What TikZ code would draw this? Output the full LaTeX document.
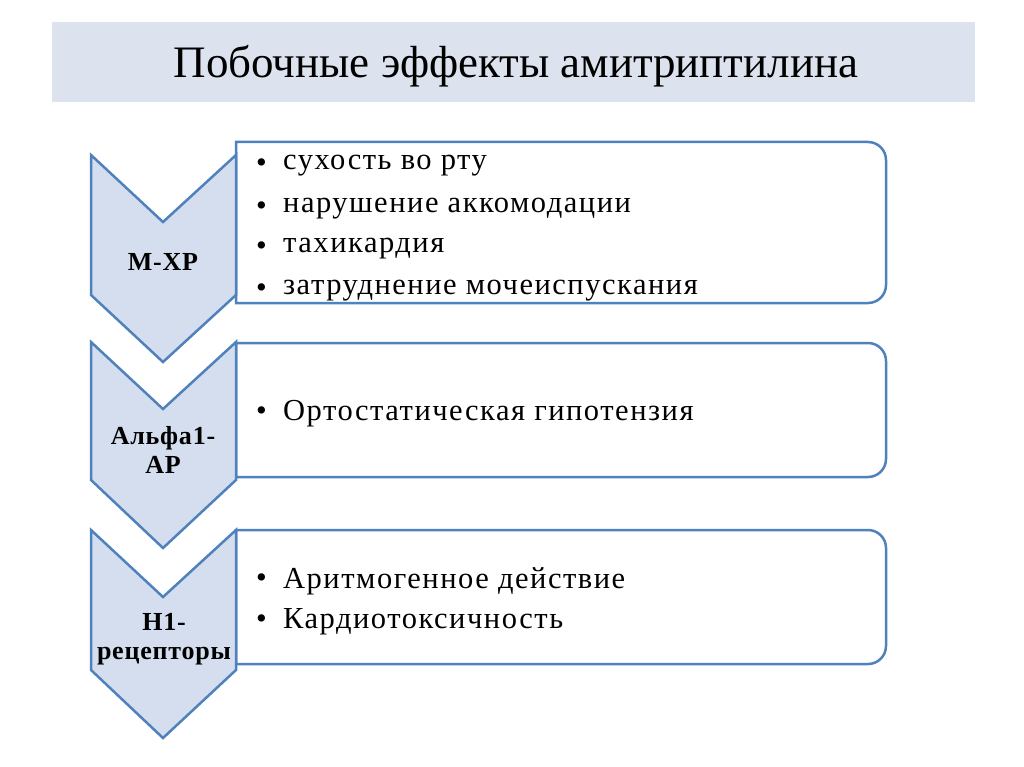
\documentclass[tikz,border=0pt]{standalone}
\usepackage{fontspec}
\setmainfont{Liberation Serif}
\newfontfamily\itemfont[LetterSpace=5]{Liberation Serif}
\newfontfamily\labfont[LetterSpace=3]{Liberation Serif}
\definecolor{bandc}{HTML}{DCE3EE}
\definecolor{chevf}{HTML}{D5DEEE}
\definecolor{edgec}{HTML}{4F81BD}
\tikzset{
  boxline/.style={draw=edgec,line width=2.5pt,fill=white,rounded corners=18pt},
  chev/.style={draw=edgec,line width=2.5pt,fill=chevf,line join=miter},
  item/.style={anchor=west,font=\itemfont\fontsize{30.5}{34}\selectfont,inner sep=0pt},
  lab/.style={align=center,font=\labfont\bfseries\fontsize{26}{29}\selectfont,inner sep=0pt}
}
\begin{document}
\begin{tikzpicture}[x=1pt,y=-1pt]
\useasboundingbox (0,0) rectangle (1024,767);
\fill[bandc] (52,22) rectangle (975,102);
\node[font=\fontsize{45}{50}\selectfont] (title) at (516,66) {Побочные эффекты амитриптилина};
% boxes
\draw[boxline] (236,142) [sharp corners]-- (236,303) [rounded corners=18pt]-- (886,303) -- (886,142) [sharp corners]-- cycle;
\draw[boxline] (236,343) [sharp corners]-- (236,477) [rounded corners=18pt]-- (886,477) -- (886,343) [sharp corners]-- cycle;
\draw[boxline] (236,530) [sharp corners]-- (236,664) [rounded corners=18pt]-- (886,664) -- (886,530) [sharp corners]-- cycle;
% chevrons
\draw[chev] (91,155) -- (163,222) -- (236,155) -- (236,295) -- (163,362) -- (91,295) -- cycle;
\draw[chev] (91,342) -- (163,409) -- (236,342) -- (236,480) -- (163,548) -- (91,480) -- cycle;
\draw[chev] (91,530) -- (163,597) -- (236,530) -- (236,670) -- (163,738) -- (91,670) -- cycle;
\node[lab] (l1) at (163,262) {М-ХР};
\node[lab] (l2) at (163,450) {Альфа1-\\АР};
\node[lab] (l3) at (164,639) {Н1-\\рецепторы};
% items
\foreach \y/\t in {166/сухость во рту,209/нарушение аккомодации,249/тахикардия,291/затруднение мочеиспускания,414/Ортостатическая гипотензия,581/Аритмогенное действие,622/Кардиотоксичность}{
  \node[item] at (256,\y) {•};
  \node[item] at (283,\y) {\t};
}
\end{tikzpicture}
\end{document}
